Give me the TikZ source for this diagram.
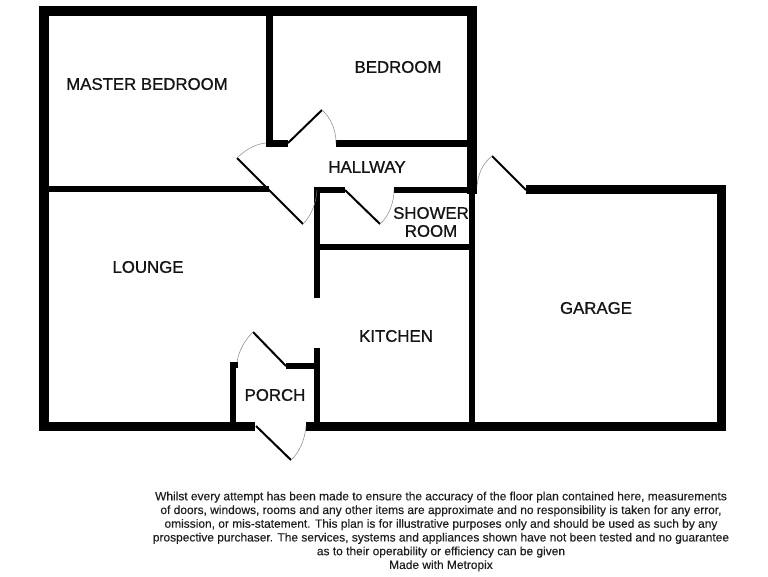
\documentclass[tikz,border=0pt]{standalone}
\usepackage{fontspec}
\setmainfont{Liberation Sans}
\newfontfamily\roomfont[FakeBold=0.9]{Liberation Sans}
\newfontfamily\notefont[FakeBold=0.25]{Liberation Sans}
\begin{document}
\begin{tikzpicture}[x=0.75pt,y=-0.75pt,
  wallA/.style={line width=6.8pt,black,line cap=butt},
  wallB/.style={line width=4.6pt,black,line cap=butt},
  doorleaf/.style={line width=1.5pt,black},
  swing/.style={line width=0.35pt,black!50},
  room/.style={font=\roomfont\fontsize{12.6pt}{14pt}\selectfont,text=black!92,align=center,inner sep=0pt},
  note/.style={font=\notefont\fontsize{8.96pt}{10.3pt}\selectfont,text=black!88,align=center,inner sep=0pt}]
\useasboundingbox (0,0) rectangle (768,576);
\fill[white] (0,0) rectangle (768,576);
% outer walls
\draw[wallA] (477,11) -- (39,11);
\draw[wallA] (44,7) -- (44,431);
\draw[wallA] (39,426.5) -- (255,426.5);
\draw[wallA] (306,426.5) -- (726,426.5);
\draw[wallA] (472,7) -- (472,194);
\draw[wallA] (526,189.5) -- (726,189.5);
\draw[wallA] (721.5,185) -- (721.5,431);
\draw[wallB] (472,190) -- (472,426);
% inner walls
\draw[wallB] (269.5,15) -- (269.5,147);
\draw[wallB] (266,143.5) -- (288,143.5);
\draw[wallB] (336,143.5) -- (470,143.5);
\draw[wallB] (46,189) -- (269,189);
\draw[wallB] (314,190) -- (345,190);
\draw[wallB] (394,190) -- (470,190);
\draw[wallB] (317,187) -- (317,298);
\draw[wallB] (317,247) -- (470,247);
\draw[wallB] (317,348) -- (317,426);
\draw[wallB] (286,366) -- (320,366);
\draw[wallB] (233,368) -- (233,426);
\draw[line width=5.6pt,black] (234,362) -- (234,368);
% door leaves and swings
\coordinate (d1a) at (288,143); \coordinate (d1b) at (322,110); \coordinate (d1c) at (336,143);
\draw[doorleaf] (d1a) -- (d1b); \draw[swing] (d1b) .. controls (331,118) and (336,130) .. (d1c);
\coordinate (d2a) at (303,224); \coordinate (d2b) at (237,158); \coordinate (d2c) at (266,143);
\draw[doorleaf] (d2a) -- (d2b); \draw[swing] (d2b) .. controls (245,150) and (255,144) .. (d2c);
\coordinate (d3c) at (317,190); \draw[swing] (d2a) .. controls (311,216) and (316,204) .. (d3c);
\coordinate (d4a) at (345,190); \coordinate (d4b) at (380,224); \coordinate (d4c) at (394,190);
\draw[doorleaf] (d4a) -- (d4b); \draw[swing] (d4b) .. controls (388,217) and (394,204) .. (d4c);
\coordinate (d5a) at (526,190); \coordinate (d5b) at (492,156); \coordinate (d5c) at (477,186);
\draw[doorleaf] (d5a) -- (d5b); \draw[swing] (d5b) .. controls (483,163) and (478,174) .. (d5c);
\coordinate (d6a) at (286,366); \coordinate (d6b) at (253,332); \coordinate (d6c) at (237,362);
\draw[doorleaf] (d6a) -- (d6b); \draw[swing] (d6b) .. controls (245,340) and (239,350) .. (d6c);
\coordinate (d7a) at (256,426); \coordinate (d7b) at (291,460); \coordinate (d7c) at (306,426);
\draw[doorleaf] (d7a) -- (d7b); \draw[swing] (d7b) .. controls (299,453) and (305,440) .. (d7c);
% labels
\node[room] (master) at (147,84) {MASTER BEDROOM};
\node[room] (bed) at (398,67) {BEDROOM};
\node[room] (hall) at (367,167) {HALLWAY};
\node[room,text width=90pt,font=\roomfont\fontsize{12.6pt}{13.5pt}\selectfont] (shower) at (431,222) {SHOWER\\ROOM};
\node[room] (lounge) at (148,267) {LOUNGE};
\node[room] (kitchen) at (396,336) {KITCHEN};
\node[room] (garage) at (596,308) {GARAGE};
\node[room] (porch) at (275,395) {PORCH};
\node[note] (notes) at (441,531.5) {Whilst every attempt has been made to ensure the accuracy of the floor plan contained here, measurements\\
of doors, windows, rooms and any other items are approximate and no responsibility is taken for any error,\\
omission, or mis-statement. This plan is for illustrative purposes only and should be used as such by any\\
prospective purchaser. The services, systems and appliances shown have not been tested and no guarantee\\
as to their operability or efficiency can be given\\
Made with Metropix};
\end{tikzpicture}
\end{document}
